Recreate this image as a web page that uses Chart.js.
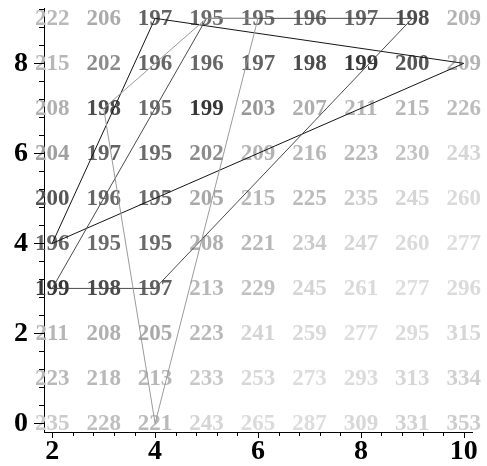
<!DOCTYPE html>
<html>
<head>
<meta charset="utf-8">
<script src="https://cdn.jsdelivr.net/npm/chart.js@4"></script>
<style>
  html, body { margin: 0; padding: 0; background: #fff; }
  #wrap { width: 487px; height: 466px; }
</style>
</head>
<body>
<div id="wrap"><canvas id="chart"></canvas></div>
<script>
// grid of values, x = 2..10, y = 0..9 (rows listed top to bottom)
const xCols = [2, 3, 4, 5, 6, 7, 8, 9, 10];
const yRows = [9, 8, 7, 6, 5, 4, 3, 2, 1, 0];
const gridValues = [
  [222, 206, 197, 195, 195, 196, 197, 198, 209],
  [215, 202, 196, 196, 197, 198, 199, 200, 209],
  [208, 198, 195, 199, 203, 207, 211, 215, 226],
  [204, 197, 195, 202, 209, 216, 223, 230, 243],
  [200, 196, 195, 205, 215, 225, 235, 245, 260],
  [196, 195, 195, 208, 221, 234, 247, 260, 277],
  [199, 198, 197, 213, 229, 245, 261, 277, 296],
  [211, 208, 205, 223, 241, 259, 277, 295, 315],
  [223, 218, 213, 233, 253, 273, 293, 313, 334],
  [235, 228, 221, 243, 265, 287, 309, 331, 353],
];

// closed paths drawn over the grid
const pathA = [[2, 4], [4, 9], [10, 8], [2, 4]];
const pathB = [[2, 3], [4, 3], [9, 9], [5, 9], [2, 3]];
const pathC = [[5, 9], [3, 7], [4, 0], [6, 9], [5, 9]];

// value -> grey level used for the numbers
const shadeStops = [195, 197, 199, 200, 202, 205, 210, 225, 240, 280, 350];
const shadeGrey = [0x6a, 0x62, 0x36, 0x55, 0x8c, 0xa8, 0xb6, 0xba, 0xd4, 0xdf, 0xcc];

function shade(v) {
  let g = shadeGrey[shadeGrey.length - 1];
  for (let i = 0; i < shadeStops.length - 1; i++) {
    if (v <= shadeStops[i + 1]) {
      const t = Math.max(0, (v - shadeStops[i]) / (shadeStops[i + 1] - shadeStops[i]));
      g = Math.round(shadeGrey[i] + t * (shadeGrey[i + 1] - shadeGrey[i]));
      break;
    }
  }
  return `rgb(${g},${g},${g})`;
}

const toPoints = (path) => path.map(([x, y]) => ({ x, y }));
const isMajor = (v) => Math.abs(v / 2 - Math.round(v / 2)) < 1e-6;

// numbers in the grid
const gridText = {
  id: "gridText",
  beforeDatasetsDraw(chart) {
    const { ctx, scales } = chart;
    ctx.save();
    ctx.font = "bold 23px 'Liberation Serif', 'DejaVu Serif', serif";
    ctx.textAlign = "center";
    ctx.textBaseline = "middle";
    yRows.forEach((yv, r) => {
      xCols.forEach((xv, c) => {
        const v = gridValues[r][c];
        ctx.fillStyle = shade(v);
        ctx.fillText(String(v), scales.x.getPixelForValue(xv), scales.y.getPixelForValue(yv) + 1);
      });
    });
    ctx.restore();
  },
};

// tick marks, long on the labelled ones
const tickMarks = {
  id: "tickMarks",
  afterDraw(chart) {
    const { ctx, scales, chartArea } = chart;
    ctx.save();
    ctx.strokeStyle = "#000";
    ctx.lineWidth = 1;
    ctx.beginPath();
    scales.x.ticks.forEach((t) => {
      const px = Math.round(scales.x.getPixelForValue(t.value)) + 0.5;
      const len = isMajor(t.value) ? 6 : 4;
      ctx.moveTo(px, chartArea.bottom);
      ctx.lineTo(px, chartArea.bottom + len);
    });
    scales.y.ticks.forEach((t) => {
      const py = Math.round(scales.y.getPixelForValue(t.value)) + 0.5;
      const len = isMajor(t.value) ? 10 : 5;
      ctx.moveTo(chartArea.left, py);
      ctx.lineTo(chartArea.left - len, py);
    });
    ctx.stroke();
    ctx.restore();
  },
};

const labelFont = { family: "'Liberation Serif', 'DejaVu Serif', serif", size: 28, weight: "bold" };

new Chart(document.getElementById("chart"), {
  type: "scatter",
  data: {
    datasets: [
      { data: toPoints(pathC), borderColor: "#9a9a9a" },
      { data: toPoints(pathB), borderColor: "#4a4a4a" },
      { data: toPoints(pathA), borderColor: "#151515" },
    ].map((d) => ({ ...d, showLine: true, borderWidth: 1, pointRadius: 0, fill: false })),
  },
  options: {
    responsive: true,
    maintainAspectRatio: false,
    animation: false,
    layout: { padding: { top: 8, right: 15, left: 0, bottom: 0 } },
    plugins: { legend: { display: false }, tooltip: { enabled: false } },
    scales: {
      x: {
        type: "linear",
        min: 1.84,
        max: 10.16,
        afterFit: (s) => { s.height = 34; s.paddingLeft = 0; s.paddingRight = 0; },
        grid: { display: false, drawTicks: false },
        border: { display: true, color: "#000", width: 1 },
        ticks: {
          stepSize: 0.4,
          includeBounds: false,
          autoSkip: false,
          maxRotation: 0,
          padding: 3,
          color: "#000",
          font: labelFont,
          callback: (v) => (isMajor(v) ? String(Math.round(v)) : ""),
        },
      },
      y: {
        type: "linear",
        min: -0.19,
        max: 9.23,
        afterFit: (s) => { s.width = 44; s.paddingTop = 0; s.paddingBottom = 0; },
        grid: { display: false, drawTicks: false },
        border: { display: true, color: "#000", width: 1 },
        ticks: {
          stepSize: 0.4,
          includeBounds: false,
          autoSkip: false,
          padding: 16,
          color: "#000",
          font: labelFont,
          callback: (v) => (isMajor(v) ? String(Math.round(v)) : ""),
        },
      },
    },
  },
  plugins: [gridText, tickMarks],
});
</script>
</body>
</html>
